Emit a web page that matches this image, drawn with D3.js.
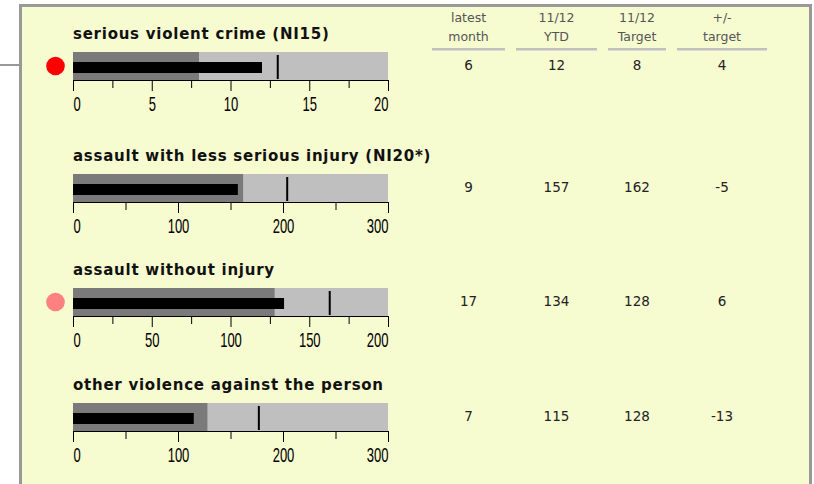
<!DOCTYPE html>
<html>
<head>
<meta charset="utf-8">
<script src="https://cdn.jsdelivr.net/npm/d3@7"></script>
<style>
  body { margin: 0; background: #fff; }
  svg { display: block; }
</style>
</head>
<body>
<div id="chart"></div>
<script>
var width = 814,
    height = 484;

// data
var titles = ['serious violent crime (NI15)', 'assault with less serious injury (NI20*)',
              'assault without injury', 'other violence against the person'];
var latestMonth = [6, 9, 17, 7];
var ytd = [12, 157, 134, 115];
var target = [8, 162, 128, 128];
var plusMinus = [4, -5, 6, -13];
var markers = [13, 204, 163, 177];
var maxima = [20, 300, 200, 300];
var majorStep = [5, 100, 50, 100];
var statusColor = ['#ff0000', null, '#ff8080', null];
var headers = [['latest', 'month'], ['11/12', 'YTD'], ['11/12', 'Target'], ['+/-', 'target']];

// layout
var rowTop = [52, 174, 288, 403];
var colX = [468.5, 556.5, 637, 722];
var colW = [73, 81, 58, 90];

var svg = d3.select('#chart').append('svg')
    .attr('width', width)
    .attr('height', height);

// connector line into the panel
svg.append('rect')
    .attr('x', 0).attr('y', 64)
    .attr('width', 21).attr('height', 2)
    .attr('fill', '#999');

// panel
svg.append('rect')
    .attr('x', 20.5).attr('y', 5.5)
    .attr('width', 790).attr('height', 500)
    .attr('fill', '#f7fbd0')
    .attr('stroke', '#999')
    .attr('stroke-width', 3);

// column headers
var head = svg.append('g').selectAll('g')
    .data(headers)
    .enter().append('g')
    .attr('transform', function(d, i) { return 'translate(' + colX[i] + ',0)'; });

head.selectAll('text')
    .data(function(d) { return d; })
    .enter().append('text')
    .attr('y', function(d, j) { return 21.5 + j * 19; })
    .attr('text-anchor', 'middle')
    .attr('font-family', 'DejaVu Sans, Verdana, sans-serif')
    .attr('font-size', 12.5)
    .attr('fill', '#555')
    .text(function(d) { return d; });

head.append('rect')
    .attr('x', function(d, i) { return -colW[i] / 2; })
    .attr('y', 48)
    .attr('width', function(d, i) { return colW[i]; })
    .attr('height', 2.5)
    .attr('fill', '#c0c0c0');

titles.forEach(function(title, i) {
    var top = rowTop[i];
    var x = d3.scaleLinear().domain([0, maxima[i]]).range([73, 388]);
    var g = svg.append('g').attr('class', 'bullet');

    g.append('text')
        .attr('x', 73).attr('y', top - 13)
        .attr('font-family', 'DejaVu Sans, Verdana, sans-serif')
        .attr('font-weight', 'bold')
        .attr('font-size', 15)
        .attr('letter-spacing', 0.75)
        .attr('fill', '#111')
        .text(title);

    // ranges
    g.append('rect')
        .attr('x', x(0)).attr('y', top)
        .attr('width', x(maxima[i]) - x(0)).attr('height', 28)
        .attr('fill', '#bfbfbf');
    g.append('rect')
        .attr('x', x(0)).attr('y', top)
        .attr('width', x(target[i]) - x(0)).attr('height', 28)
        .attr('fill', '#7a7a7a');

    // measure
    g.append('rect')
        .attr('x', x(0)).attr('y', top + 10)
        .attr('width', x(ytd[i]) - x(0)).attr('height', 11)
        .attr('fill', '#000');

    // marker
    g.append('rect')
        .attr('x', x(markers[i]) - 1).attr('y', top + 3)
        .attr('width', 2).attr('height', 24)
        .attr('fill', '#000');

    // minor ticks
    var minor = d3.range(majorStep[i] / 2, maxima[i], majorStep[i]);
    g.append('g')
        .attr('transform', 'translate(0,' + (top + 28) + ')')
        .call(d3.axisBottom(x).tickValues(minor).tickSize(8).tickSizeOuter(0).tickFormat(''))
        .call(function(a) { a.select('.domain').remove(); });

    // major ticks and labels
    var major = d3.range(0, maxima[i] + 1e-9, majorStep[i]);
    var axis = g.append('g')
        .attr('transform', 'translate(0,' + (top + 28) + ')')
        .call(d3.axisBottom(x).tickValues(major).tickSize(11).tickSizeOuter(0));
    axis.select('.domain').attr('stroke', '#000');
    axis.selectAll('text')
        .attr('y', 31.5)
        .attr('dy', null)
        .attr('font-family', 'Liberation Sans, Arial, sans-serif')
        .attr('font-size', 21)
        .attr('fill', '#000')
        .attr('transform', 'scale(0.62,1)')
        .attr('text-anchor', function(d, j) {
            return j === 0 ? 'start' : (j === major.length - 1 ? 'end' : 'middle');
        });

    // status dot
    if (statusColor[i]) {
        g.append('circle')
            .attr('cx', 55.5).attr('cy', top + 14)
            .attr('r', 9.3)
            .attr('fill', statusColor[i]);
    }

    // table values
    var vals = [latestMonth[i], ytd[i], target[i], plusMinus[i]];
    g.selectAll('text.val')
        .data(vals)
        .enter().append('text')
        .attr('class', 'val')
        .attr('x', function(d, j) { return colX[j]; })
        .attr('y', top + 17.5)
        .attr('text-anchor', 'middle')
        .attr('font-family', 'DejaVu Sans, Verdana, sans-serif')
        .attr('font-size', 13.5)
        .attr('fill', '#222')
        .text(function(d) { return d; });
});
</script>
</body>
</html>
